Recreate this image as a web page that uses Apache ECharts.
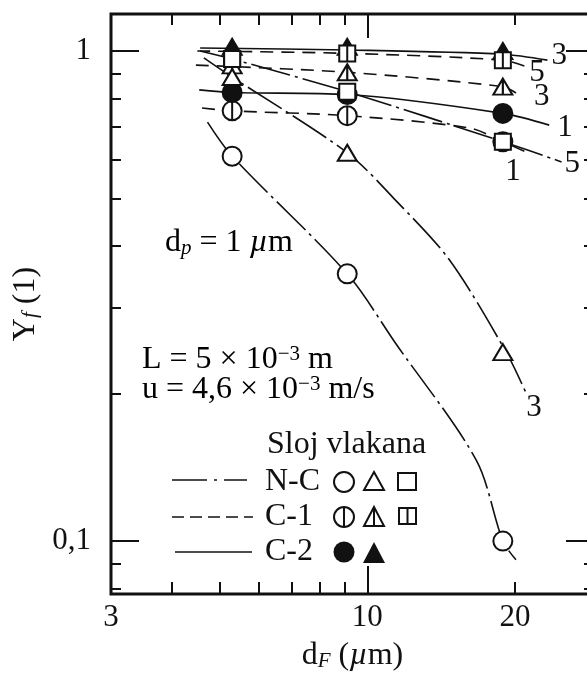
<!DOCTYPE html>
<html>
<head>
<meta charset="utf-8">
<script src="https://cdn.jsdelivr.net/npm/echarts@6/dist/echarts.min.js"></script>
<style>
  html, body { margin: 0; padding: 0; background: #fff; }
  #chart { width: 587px; height: 675px; }
</style>
</head>
<body>
<div id="chart"></div>
<script>
const FONT = '"Liberation Serif", "DejaVu Serif", serif'
const INK = '#111'

// fibre diameters of the measured points, d_F (µm)
const dF = [5.3, 9.1, 18.9]

// measured Y_f at dF, per fibre layer (circle = 1, triangle = 3, square = 5 µm particles)
const ncCircle = [0.61, 0.351, 0.1]
const ncTriangle = [0.885, 0.62, 0.243]
const ncSquare = [0.963, 0.826, 0.653]
const c1Circle = [0.755, 0.738, 0.653]
const c1Triangle = [0.935, 0.905, 0.846]
const c1Square = [0.963, 0.989, 0.958]
const c2Circle = [0.823, 0.815, 0.746]
const c2Triangle = [1.02, 1.02, 1.0]

// the drawn curves, [d_F, Y_f]
const ncCircleCurve = [[4.72, 0.716], [5.3, 0.61], [9.1, 0.351], [11.4, 0.254], [16.7, 0.146], [18.9, 0.1], [20.1, 0.0916]]
const ncTriangleCurve = [[4.64, 0.968], [5.3, 0.885], [9.1, 0.62], [11.4, 0.497], [14.7, 0.375], [19.2, 0.243], [21.1, 0.2]]
const ncSquareCurve = [[4.56, 1.0], [5.3, 0.963], [9.1, 0.826], [18.9, 0.653], [24.9, 0.594]]
const c1CircleCurve = [[4.6, 0.765], [5.3, 0.755], [9.1, 0.738], [16.2, 0.696], [18.9, 0.653], [21.3, 0.619]]
const c1TriangleCurve = [[4.47, 0.936], [9.1, 0.905], [18.9, 0.846], [20.1, 0.821]]
const c1SquareCurve = [[4.5, 1.0], [9.1, 0.989], [18.9, 0.958], [21.2, 0.928]]
const c2CircleCurve = [[4.54, 0.833], [5.3, 0.823], [9.1, 0.815], [18.9, 0.746], [23.5, 0.706]]
const c2TriangleCurve = [[4.56, 1.014], [9.1, 1.005], [18.9, 0.985], [23.3, 0.958]]

// axes
const X_MIN = 3
const X_MAX = 29
const Y_MIN = 0.078
const Y_MAX = 1.19
const xMinorTicks = [4, 5, 6, 7, 8, 9, 20]
const xMajorTicks = [10]
const xTickLabels = [3, 10, 20]
const yMinorTicks = [0.08, 0.09, 0.2, 0.3, 0.4, 0.5, 0.6, 0.7, 0.8, 0.9]
const yMajorTicks = [0.1, 1]
const yTickLabels = [0.1, 1]

const DASH_DOT = [40, 5, 3, 5]
const DASHED = [13, 8]

// C-1 markers carry a vertical bar
const SYM_C1_CIRCLE = 'path://M10,0 A10,10 0 1 1 10,20 A10,10 0 1 1 10,0 Z M10,0 L10,20'
const SYM_C1_TRIANGLE = 'path://M10,0 L20,16 L0,16 Z M10,0 L10,16'
const SYM_C1_SQUARE = 'path://M0,0 L16,0 L16,16 L0,16 Z M8,0 L8,16'

let toPoints = (ys) => dF.map((x, i) => [x, ys[i]])

let tickAxis = (dim, position, ticks, len, labels) => {
  let axis = {
    type: 'log',
    logBase: 10,
    min: dim === 'x' ? X_MIN : Y_MIN,
    max: dim === 'x' ? X_MAX : Y_MAX,
    position: position,
    axisLine: { show: false },
    splitLine: { show: false },
    axisTick: {
      show: true,
      inside: true,
      length: len,
      customValues: ticks,
      lineStyle: { color: INK, width: 2 }
    },
    axisLabel: { show: false }
  }
  if (labels) {
    axis.axisLabel = {
      show: true,
      customValues: labels,
      color: INK,
      fontFamily: FONT,
      fontSize: 31,
      margin: dim === 'x' ? 8 : 20,
      formatter: dim === 'x' ? (v) => String(Math.round(v)) : (v) => (v < 0.5 ? '0,1' : '1')
    }
  }
  return axis
}

let curve = (data, type, label, labelOpts, z) => ({
  type: 'line',
  data: data,
  symbol: 'none',
  smooth: 0.3,
  z: z || 2,
  lineStyle: { color: INK, width: 1.6, type: type },
  endLabel: label ? Object.assign({
    show: true,
    formatter: label,
    color: INK,
    fontFamily: FONT,
    fontSize: 31
  }, labelOpts) : { show: false }
})

let markers = (ys, symbol, size, fill, z) => ({
  type: 'scatter',
  data: toPoints(ys),
  symbol: symbol,
  symbolSize: size,
  z: z,
  itemStyle: { color: fill, borderColor: INK, borderWidth: 2, opacity: 1 }
})

let echart = echarts.init(document.getElementById('chart'))

let txt = { fontFamily: FONT, fontSize: 32, color: INK }
let sub = { fontFamily: FONT, fontSize: 21, fontStyle: 'italic', color: INK, verticalAlign: 'bottom', lineHeight: 14 }

let opts = {
  animation: false,
  backgroundColor: '#fff',
  grid: {
    left: 111, top: 14, width: 483, height: 580,
    show: true, borderColor: INK, borderWidth: 3,
    containLabel: false, outerBoundsMode: 'none'
  },
  xAxis: [
    Object.assign(tickAxis('x', 'bottom', xMinorTicks, 12, xTickLabels), {
      name: 'd{s|F} ({i|µ}m)',
      nameLocation: 'middle',
      nameGap: 46,
      nameTextStyle: {
        fontFamily: FONT, fontSize: 32, color: INK,
        rich: { s: sub, i: { fontFamily: FONT, fontSize: 32, fontStyle: 'italic', color: INK } }
      }
    }),
    tickAxis('x', 'bottom', xMajorTicks, 28),
    tickAxis('x', 'top', xMinorTicks, 11),
    tickAxis('x', 'top', xMajorTicks, 24)
  ],
  yAxis: [
    Object.assign(tickAxis('y', 'left', yMinorTicks, 10, yTickLabels), {
      name: 'Y{s|f} (1)',
      nameLocation: 'middle',
      nameRotate: 90,
      nameGap: 63,
      nameTextStyle: { fontFamily: FONT, fontSize: 32, color: INK, rich: { s: sub } }
    }),
    tickAxis('y', 'left', yMajorTicks, 28),
    tickAxis('y', 'right', yMinorTicks, 10),
    tickAxis('y', 'right', yMajorTicks, 28)
  ],
  series: [
    curve(ncCircleCurve, DASH_DOT),
    curve(ncTriangleCurve, DASH_DOT, '3', { distance: 0, offset: [0, 14] }),
    curve(ncSquareCurve, DASH_DOT, '5', { distance: 3, offset: [0, 2] }),
    curve(c1CircleCurve, DASHED, '1', { distance: -23, offset: [0, 19] }),
    curve(c1TriangleCurve, DASHED, '3', { distance: 18, offset: [0, 4] }),
    curve(c1SquareCurve, DASHED, '5', { distance: 2, offset: [0, 6] }),
    curve(c2CircleCurve, 'solid', '1', { distance: 8, offset: [0, 3] }),
    curve(c2TriangleCurve, 'solid', '3', { distance: 4, offset: [0, -4] }),
    // draw order: C-2 triangles, C-1, C-2 circles, N-C on top
    markers(c2Triangle, 'triangle', [19, 16], INK, 3),
    markers(c1Circle, SYM_C1_CIRCLE, 19, '#fff', 4),
    markers(c1Triangle, SYM_C1_TRIANGLE, [19, 16], '#fff', 4),
    markers(c1Square, SYM_C1_SQUARE, 16, '#fff', 4),
    markers(c2Circle, 'circle', 19, INK, 5),
    markers(ncCircle, 'circle', 19, '#fff', 6),
    markers(ncTriangle, 'triangle', [19, 16], '#fff', 6),
    markers(ncSquare, 'rect', 16, '#fff', 6)
  ],
  graphic: [
    { type: 'text', x: 165, y: 243, style: { text: '{t|d}{s|p}{t| = 1 }{i|µ}{t|m}', verticalAlign: 'middle',
        rich: { t: txt, s: sub, i: Object.assign({}, txt, { fontStyle: 'italic' }) } } },
    { type: 'text', x: 142, y: 360, style: { text: '{t|L = 5 × 10}{u|−3}{t| m}', verticalAlign: 'middle',
        rich: { t: txt, u: { fontFamily: FONT, fontSize: 21, color: INK, verticalAlign: 'top', lineHeight: 20 } } } },
    { type: 'text', x: 142, y: 390, style: { text: '{t|u = 4,6 × 10}{u|−3}{t| m/s}', verticalAlign: 'middle',
        rich: { t: txt, u: { fontFamily: FONT, fontSize: 21, color: INK, verticalAlign: 'top', lineHeight: 20 } } } },
    // legend
    { type: 'text', x: 267, y: 445, style: { text: 'Sloj vlakana', font: '32px ' + FONT, fill: INK, verticalAlign: 'middle' } },
    { type: 'line', shape: { x1: 172, y1: 480, x2: 247, y2: 480 }, style: { stroke: INK, lineWidth: 1.6, lineDash: [35, 7, 3, 7] } },
    { type: 'line', shape: { x1: 172, y1: 517, x2: 253, y2: 517 }, style: { stroke: INK, lineWidth: 1.6, lineDash: [12, 6] } },
    { type: 'line', shape: { x1: 175, y1: 552, x2: 252, y2: 552 }, style: { stroke: INK, lineWidth: 1.6 } },
    { type: 'text', x: 265, y: 482, style: { text: 'N-C', font: '32px ' + FONT, fill: INK, verticalAlign: 'middle' } },
    { type: 'text', x: 265, y: 517, style: { text: 'C-1', font: '32px ' + FONT, fill: INK, verticalAlign: 'middle' } },
    { type: 'text', x: 265, y: 552, style: { text: 'C-2', font: '32px ' + FONT, fill: INK, verticalAlign: 'middle' } },
    { type: 'circle', shape: { cx: 344, cy: 482, r: 10 }, style: { fill: '#fff', stroke: INK, lineWidth: 2 } },
    { type: 'polygon', shape: { points: [[374, 472], [384, 490], [364, 490]] }, style: { fill: '#fff', stroke: INK, lineWidth: 2 } },
    { type: 'rect', shape: { x: 398, y: 473, width: 18, height: 17 }, style: { fill: '#fff', stroke: INK, lineWidth: 2 } },
    { type: 'circle', shape: { cx: 344, cy: 517, r: 10 }, style: { fill: '#fff', stroke: INK, lineWidth: 2 } },
    { type: 'line', shape: { x1: 344, y1: 507, x2: 344, y2: 527 }, style: { stroke: INK, lineWidth: 2 } },
    { type: 'polygon', shape: { points: [[374, 507], [384, 526], [364, 526]] }, style: { fill: '#fff', stroke: INK, lineWidth: 2 } },
    { type: 'line', shape: { x1: 374, y1: 507, x2: 374, y2: 526 }, style: { stroke: INK, lineWidth: 2 } },
    { type: 'rect', shape: { x: 399, y: 508, width: 17, height: 16 }, style: { fill: '#fff', stroke: INK, lineWidth: 2 } },
    { type: 'line', shape: { x1: 407.5, y1: 508, x2: 407.5, y2: 524 }, style: { stroke: INK, lineWidth: 2 } },
    { type: 'circle', shape: { cx: 344, cy: 552, r: 10.5 }, style: { fill: INK } },
    { type: 'polygon', shape: { points: [[374, 542], [385, 563], [363, 563]] }, style: { fill: INK } }
  ]
}

echart.setOption(opts)
</script>
</body>
</html>
